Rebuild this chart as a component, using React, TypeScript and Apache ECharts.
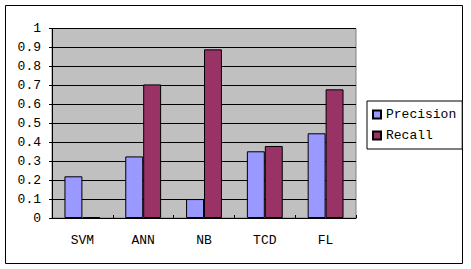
import React, { useEffect, useRef } from "react";
import * as echarts from "echarts";

const categories = ["SVM", "ANN", "NB", "TCD", "FL"];
const precision = [0.22, 0.325, 0.1, 0.352, 0.447];
const recall = [0.005, 0.705, 0.89, 0.38, 0.679];
const yTicks = [0, 0.1, 0.2, 0.3, 0.4, 0.5, 0.6, 0.7, 0.8, 0.9, 1];

const FONT = "'Liberation Mono', 'DejaVu Sans Mono', monospace";

export default function App() {
  const ref = useRef<HTMLDivElement>(null);
  useEffect(() => {
    if (!ref.current) return;
    const chart = echarts.init(ref.current, null, { renderer: "svg" });
    chart.setOption({
      animation: false,
      backgroundColor: "#ffffff",
      textStyle: { fontFamily: FONT },
      graphic: [
        {
          type: "rect",
          shape: { x: 5.5, y: 5.5, width: 457, height: 258 },
          style: { fill: "none", stroke: "#000", lineWidth: 1 },
          z: -1,
        },
      ],
      grid: {
        left: 52,
        top: 28.5,
        width: 304,
        height: 189.5,
        show: true,
        backgroundColor: "#c0c0c0",
        borderColor: "#808080",
        borderWidth: 1,
      },
      legend: {
        orient: "vertical",
        left: 367,
        top: 101,
        width: 94,
        padding: [7, 6, 7, 5],
        itemGap: 8,
        itemWidth: 8,
        itemHeight: 8,
        icon: "rect",
        borderColor: "#000",
        borderWidth: 1,
        backgroundColor: "#fff",
        textStyle: { fontFamily: FONT, fontSize: 13, color: "#000" },
        data: ["Precision", "Recall"],
      },
      xAxis: {
        type: "category",
        data: categories,
        axisLine: { lineStyle: { color: "#000", width: 1 } },
        axisTick: { show: true, length: 3, inside: true, lineStyle: { color: "#000" } },
        axisLabel: { color: "#000", fontFamily: FONT, fontSize: 13, margin: 16 },
      },
      yAxis: {
        type: "value",
        min: 0,
        max: 1,
        interval: 0.1,
        axisLine: { show: true, lineStyle: { color: "#000", width: 1 } },
        axisTick: { show: true, length: 3, lineStyle: { color: "#000" } },
        axisLabel: {
          color: "#000",
          fontFamily: FONT,
          fontSize: 13,
          margin: 11,
          formatter: (v: number) => {
            const t = yTicks.find((x) => Math.abs(x - v) < 1e-6);
            return t === undefined ? "" : String(t);
          },
        },
        splitLine: { show: true, lineStyle: { color: "#000", width: 1 } },
      },
      series: [
        {
          name: "Precision",
          type: "bar",
          data: precision,
          barGap: "0%",
          barCategoryGap: "41%",
          itemStyle: { color: "#9999ff", borderColor: "#000", borderWidth: 1 },
        },
        {
          name: "Recall",
          type: "bar",
          data: recall,
          barGap: "0%",
          barCategoryGap: "41%",
          itemStyle: { color: "#993366", borderColor: "#000", borderWidth: 1 },
        },
      ],
    });
    return () => chart.dispose();
  }, []);
  return (
    <div
      ref={ref}
      style={{ position: "absolute", left: 0, top: 0, width: 471, height: 269 }}
    />
  );
}
